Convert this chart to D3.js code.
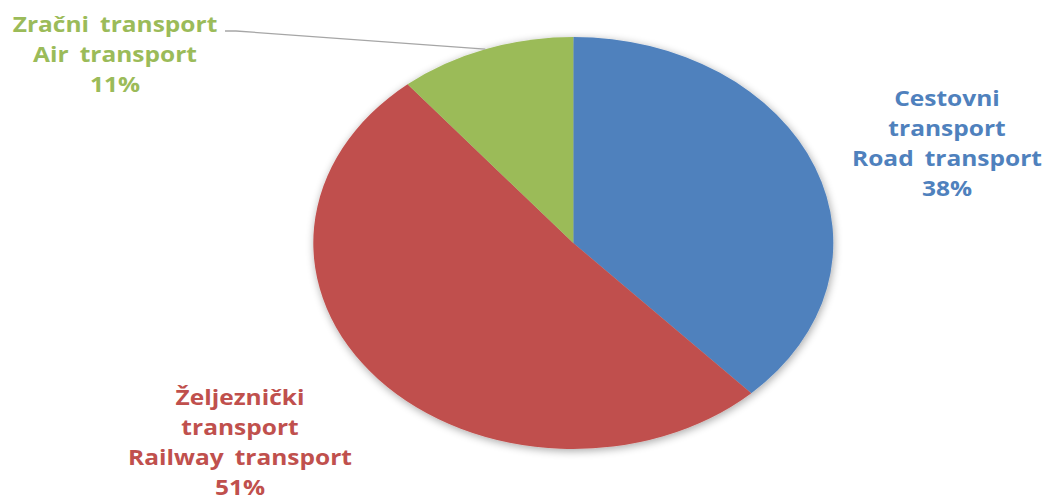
<!DOCTYPE html>
<html>
<head>
<meta charset="utf-8">
<script src="https://cdn.jsdelivr.net/npm/d3@7/dist/d3.min.js"></script>
<style>
  html, body { margin: 0; padding: 0; background: #fff; }
  svg { display: block; }
  .slice-label { font-family: "Open Sans", "DejaVu Sans", sans-serif; font-weight: 700; font-size: 21px; word-spacing: 4px; }
</style>
</head>
<body>
<div id="chart"></div>
<script>
// data
const categories = ['Cestovni transport / Road transport', 'Željeznički transport / Railway transport', 'Zračni transport / Air transport'];
const shares = [38, 51, 11];
const labelLines = [
  ['Cestovni', 'transport', 'Road transport', '38%'],
  ['Željeznički', 'transport', 'Railway transport', '51%'],
  ['Zračni transport', 'Air transport', '11%']
];
const colors = ['#4F81BD', '#C0504D', '#9BBB59'];

const width = 1047;
const height = 501;
const cx = 573.3;
const cy = 243;
const rx = 260;
const ry = 206;
// label block centres (x) and first baseline (y)
const labelPos = [
  { x: 947, y: 106 },
  { x: 240, y: 405 },
  { x: 115, y: 32 }
];
const lineHeight = 30;

const svg = d3.select('#chart').append('svg')
  .attr('width', width)
  .attr('height', height);

const defs = svg.append('defs');
const shadow = defs.append('filter').attr('id', 'pie-shadow')
  .attr('x', '-10%').attr('y', '-10%').attr('width', '120%').attr('height', '120%');
shadow.append('feGaussianBlur').attr('in', 'SourceAlpha').attr('stdDeviation', 4).attr('result', 'blur');
shadow.append('feOffset').attr('dx', 1).attr('dy', 2).attr('result', 'off');
shadow.append('feComponentTransfer').attr('in', 'off').attr('result', 'soft')
  .append('feFuncA').attr('type', 'linear').attr('slope', 0.35);
const merge = shadow.append('feMerge');
merge.append('feMergeNode').attr('in', 'soft');
merge.append('feMergeNode').attr('in', 'SourceGraphic');

const pie = d3.pie().sort(null).value((d) => d);
const arcs = pie(shares);
const arc = d3.arc().innerRadius(0).outerRadius(ry);

const pieLayer = svg.append('g').attr('filter', 'url(#pie-shadow)');
pieLayer.append('g')
  .attr('transform', `translate(${cx},${cy}) scale(${rx / ry},1)`)
  .selectAll('path')
  .data(arcs)
  .join('path')
  .attr('d', arc)
  .attr('fill', (d, i) => colors[i]);

// leader line for the air transport slice
const air = arcs[2];
const mid = (air.startAngle + air.endAngle) / 2;
const edge = [cx + rx * Math.sin(mid), cy - ry * Math.cos(mid)];
svg.append('path')
  .attr('d', d3.line()([[225, 31], [236, 31], edge]))
  .attr('fill', 'none')
  .attr('stroke', '#A6A6A6')
  .attr('stroke-width', 1.3);

// labels
const labelGroups = svg.selectAll('g.label')
  .data(labelLines)
  .join('g')
  .attr('class', 'label');

labelGroups.each(function (lines, i) {
  const g = d3.select(this);
  g.selectAll('text')
    .data(lines)
    .join('text')
    .attr('class', 'slice-label')
    .attr('text-anchor', 'middle')
    .attr('x', 0)
    .attr('y', (d, j) => j * lineHeight)
    .attr('fill', colors[i])
    .text((d) => d);
});

// stretch text horizontally like the reference
const ref = labelGroups.filter((d, i) => i === 0).selectAll('text').filter((d) => d === 'Road transport').node();
const sx = 190 / ref.getComputedTextLength();
labelGroups.attr('transform', (d, i) => `translate(${labelPos[i].x},${labelPos[i].y}) scale(${sx},1)`);
</script>
</body>
</html>
